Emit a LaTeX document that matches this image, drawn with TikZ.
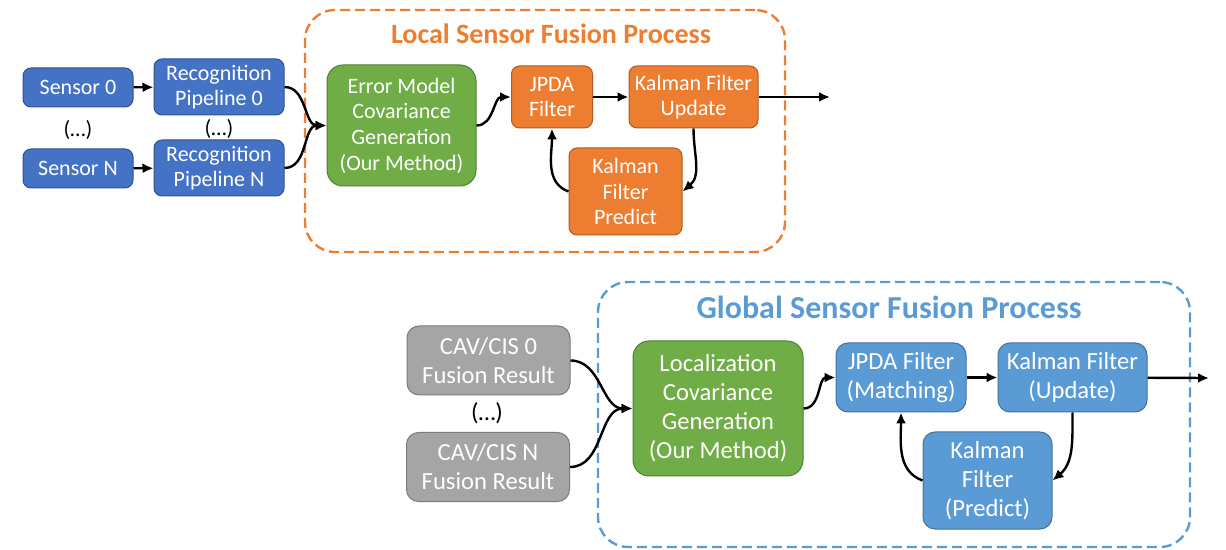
\documentclass[tikz,border=0pt]{standalone}
\usepackage{fontspec}
\setmainfont{Carlito}
\usepackage{xcolor}
\usetikzlibrary{positioning,arrows.meta,calc}
\definecolor{sensblue}{HTML}{4472C4}
\definecolor{sensedge}{HTML}{2F528F}
\definecolor{fuseorange}{HTML}{ED7D31}
\definecolor{orangeedge}{HTML}{AE5A21}
\definecolor{covgreen}{HTML}{70AD47}
\definecolor{greenedge}{HTML}{507E32}
\definecolor{resgray}{HTML}{A5A5A5}
\definecolor{grayedge}{HTML}{7B7B7B}
\definecolor{globblue}{HTML}{5B9BD5}
\definecolor{globedge}{HTML}{41719C}

\begin{document}
\begin{tikzpicture}[
  x=0.5pt, y=-0.5pt,
  font=\fontsize{11}{12.8}\selectfont,
  big/.style={font=\fontsize{12.3}{14.5}\selectfont},
  box/.style={draw, line width=0.5pt, rounded corners=4pt, align=center, text=white, inner sep=1pt},
  sensor/.style={box, fill=sensblue, draw=sensedge},
  local/.style={box, fill=fuseorange, draw=orangeedge},
  cov/.style={box, fill=covgreen, draw=greenedge, rounded corners=8pt},
  result/.style={box, big, fill=resgray, draw=grayedge, rounded corners=6pt},
  global/.style={box, big, fill=globblue, draw=globedge, rounded corners=6pt},
  frame/.style={dash pattern=on 5pt off 2.5pt, line width=1.2pt, rounded corners=15pt, inner sep=0pt},
  title/.style={font=\fontsize{14}{16}\selectfont\bfseries},
  dots/.style={inner sep=0pt},
  arr/.style={-{Latex[length=5.5pt,width=5pt]}, line width=1.2pt}]
\useasboundingbox (0,0) rectangle (1226,550);

\node[frame, draw=fuseorange, minimum width=240pt, minimum height=121pt] (lframe) at (545,131) {};
\node[title, text=fuseorange] (ltitle) at (551,34) {Local Sensor Fusion Process};
\node[sensor, minimum width=55pt, minimum height=19.5pt] (sen0) at (78,87.5) {Sensor 0};
\node[sensor, minimum width=55pt, minimum height=19.5pt] (senN) at (78,168.5) {Sensor N};
\node[dots] (sdots) at (78,130) {(…)};
\node[sensor, minimum width=65pt, minimum height=28pt] (pip0) at (219,87) {Recognition\\Pipeline 0};
\node[sensor, minimum width=65pt, minimum height=28pt] (pipN) at (219,168) {Recognition\\Pipeline N};
\node[dots] (pdots) at (219,129) {(…)};
\node[cov, minimum width=74.5pt, minimum height=60.5pt] (err) at (401.5,125.5) {Error Model\\Covariance\\Generation\\(Our Method)};
\node[local, minimum width=40.5pt, minimum height=31pt] (jpda) at (552,97) {JPDA\\Filter};
\node[local, minimum width=64.5pt, minimum height=31pt] (kfu) at (693.5,97) {Kalman Filter\\Update};
\node[local, minimum width=56.5pt, minimum height=43.5pt] (kfp) at (625.5,191.5) {Kalman\\Filter\\Predict};
\coordinate (lout) at (830,97);
\draw[arr] (sen0) -- (pip0);
\draw[arr] (senN) -- (pipN);
\draw[arr] (pip0.east) to[out=0, in=180] (err.west);
\draw[arr] (pipN.east) to[out=0, in=180] (err.west);
\draw[arr] (err.east) to[out=0, in=180] (jpda.west);
\draw[arr] (jpda) -- (kfu);
\draw[arr] (kfu) -- (lout);
\draw[arr] (kfu.south) to[out=-90, in=40] (kfp.east);
\draw[arr] (kfp.west) to[out=160, in=-90] (jpda.south);

\node[frame, draw=globblue, minimum width=296pt, minimum height=132.5pt] (gframe) at (894,414.5) {};
\node[title, text=globblue, font=\fontsize{16}{18}\selectfont\bfseries] (gtitle) at (889,307) {Global Sensor Fusion Process};
\node[result, minimum width=81.5pt, minimum height=34.5pt] (cav0) at (488.5,360.5) {CAV/CIS 0\\Fusion Result};
\node[result, minimum width=81.5pt, minimum height=34.5pt] (cavN) at (488,467) {CAV/CIS N\\Fusion Result};
\node[dots, big] (cdots) at (487,413) {(…)};
\node[cov, big, minimum width=85pt, minimum height=67.5pt] (loc) at (718,408.5) {Localization\\Covariance\\Generation\\(Our Method)};
\node[global, minimum width=65pt, minimum height=34.5pt] (gjpda) at (901,377.5) {JPDA Filter\\(Matching)};
\node[global, minimum width=74.5pt, minimum height=34.5pt] (gkfu) at (1072.5,377.5) {Kalman Filter\\(Update)};
\node[global, minimum width=64.5pt, minimum height=48.5pt] (gkfp) at (987.5,480.5) {Kalman\\Filter\\(Predict)};
\coordinate (gout) at (1209,378);
\draw[arr] (cav0.east) to[out=0, in=180] (loc.west);
\draw[arr] (cavN.east) to[out=0, in=180] (loc.west);
\draw[arr] (loc.east) to[out=0, in=180] (gjpda.west);
\draw[arr] (gjpda) -- (gkfu);
\draw[arr] (gkfu) -- (gout);
\draw[arr] (gkfu.south) to[out=-90, in=40] (gkfp.east);
\draw[arr] (gkfp.west) to[out=160, in=-90] (gjpda.south);
\end{tikzpicture}
\end{document}
